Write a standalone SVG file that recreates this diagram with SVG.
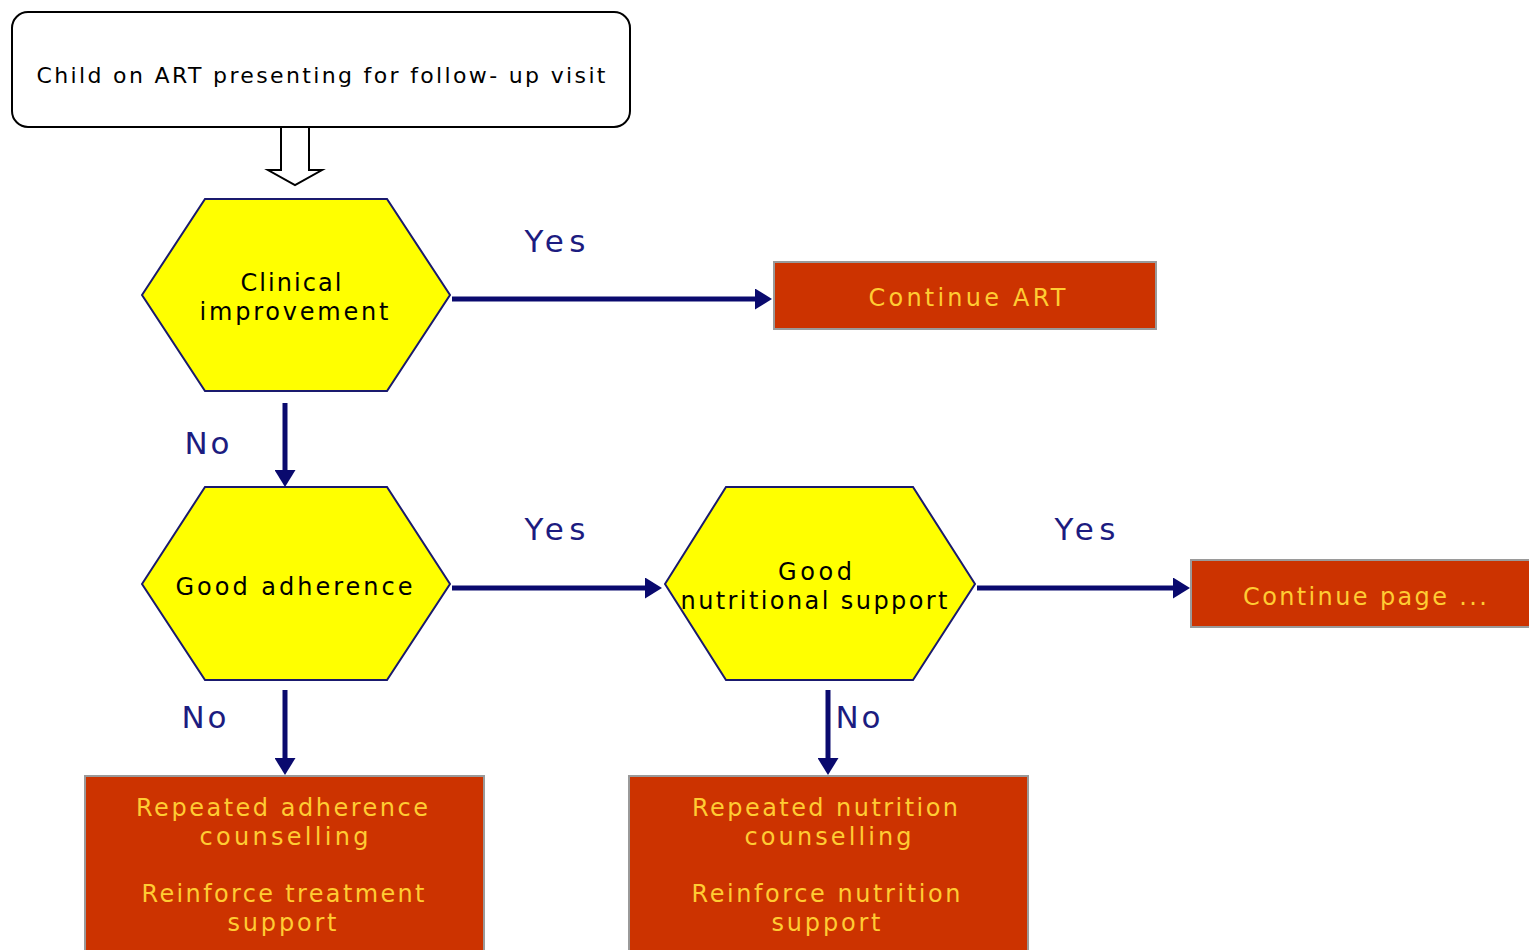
<svg xmlns="http://www.w3.org/2000/svg" width="1529" height="950" viewBox="0 0 1529 950">
<style>
.hex{fill:#FFFF00;stroke:#1a1a6e;stroke-width:2}
.box{fill:#CC3300;stroke:#9a9a9a;stroke-width:2}
.t{font-family:"DejaVu Sans","Liberation Sans",sans-serif;font-size:24px;text-anchor:middle}
.top{font-size:22px}
.dark{fill:#000}
.lt{fill:#FFCC33}
.lbl{font-family:"DejaVu Sans","Liberation Sans",sans-serif;font-size:31px;fill:#1c1c80;text-anchor:middle}
.con{stroke:#0a0a6e;stroke-width:5;fill:none}
</style>
<defs>
<marker id="ah" markerWidth="3.4" markerHeight="4.2" refX="0.4" refY="2.1" orient="auto" markerUnits="strokeWidth">
<path d="M0,0 L3.4,2.1 L0,4.2 Z" fill="#0a0a6e"/>
</marker>
</defs>
<rect width="1529" height="950" fill="#fff"/>
<g id="start">
<rect x="12" y="12" width="618" height="115" rx="16" ry="16" fill="#fff" stroke="#000" stroke-width="2"/>
<text class="t top dark" x="321" y="83" textLength="569" lengthAdjust="spacing">Child on ART presenting for follow- up visit</text>
</g>
<g id="start-arrow">
<path d="M281,128 L281,170 L268,170 L295,185 L322,170 L309,170 L309,128" fill="#fff" stroke="#000" stroke-width="2"/>
</g>
<g id="clinical">
<polygon class="hex" points="142,295 205,199 387,199 450,295 387,391 205,391"/>
<text class="t dark" x="291" y="291" textLength="101" lengthAdjust="spacing">Clinical</text>
<text class="t dark" x="294" y="320" textLength="189" lengthAdjust="spacing">improvement</text>
</g>
<g id="continue-art">
<rect class="box" x="774" y="262" width="382" height="67"/>
<text class="t lt" x="967" y="306" textLength="197" lengthAdjust="spacing">Continue ART</text>
</g>
<g id="adherence">
<polygon class="hex" points="142,584 205,487 387,487 450,584 387,680 205,680"/>
<text class="t dark" x="294" y="595" textLength="237" lengthAdjust="spacing">Good adherence</text>
</g>
<g id="nutrition">
<polygon class="hex" points="665,584 726,487 913,487 975,584 913,680 726,680"/>
<text class="t dark" x="815" y="580" textLength="74" lengthAdjust="spacing">Good</text>
<text class="t dark" x="814" y="609" textLength="267" lengthAdjust="spacing">nutritional support</text>
</g>
<g id="continue-page">
<rect class="box" x="1191" y="560" width="345" height="67"/>
<text class="t lt" x="1365" y="605" textLength="244" lengthAdjust="spacing">Continue page ...</text>
</g>
<g id="adherence-counselling">
<rect class="box" x="85" y="776" width="399" height="175"/>
<text class="t lt" x="282" y="816" textLength="292" lengthAdjust="spacing">Repeated adherence</text>
<text class="t lt" x="284" y="845" textLength="169" lengthAdjust="spacing">counselling</text>
<text class="t lt" x="283" y="902" textLength="283" lengthAdjust="spacing">Reinforce treatment</text>
<text class="t lt" x="282" y="931" textLength="109" lengthAdjust="spacing">support</text>
</g>
<g id="nutrition-counselling">
<rect class="box" x="629" y="776" width="399" height="175"/>
<text class="t lt" x="825" y="816" textLength="266" lengthAdjust="spacing">Repeated nutrition</text>
<text class="t lt" x="828" y="845" textLength="167" lengthAdjust="spacing">counselling</text>
<text class="t lt" x="826" y="902" textLength="269" lengthAdjust="spacing">Reinforce nutrition</text>
<text class="t lt" x="826" y="931" textLength="109" lengthAdjust="spacing">support</text>
</g>
<g id="connectors">
<line class="con" x1="452" y1="299" x2="757" y2="299" marker-end="url(#ah)"/>
<line class="con" x1="285" y1="403" x2="285" y2="472" marker-end="url(#ah)"/>
<line class="con" x1="452" y1="588" x2="647" y2="588" marker-end="url(#ah)"/>
<line class="con" x1="977" y1="588" x2="1175" y2="588" marker-end="url(#ah)"/>
<line class="con" x1="285" y1="690" x2="285" y2="760" marker-end="url(#ah)"/>
<line class="con" x1="828" y1="690" x2="828" y2="760" marker-end="url(#ah)"/>
<text class="lbl" x="555" y="252" textLength="61" lengthAdjust="spacing">Yes</text>
<text class="lbl" x="207" y="454" textLength="45" lengthAdjust="spacing">No</text>
<text class="lbl" x="555" y="540" textLength="61" lengthAdjust="spacing">Yes</text>
<text class="lbl" x="1085" y="540" textLength="61" lengthAdjust="spacing">Yes</text>
<text class="lbl" x="204" y="728" textLength="45" lengthAdjust="spacing">No</text>
<text class="lbl" x="858" y="728" textLength="45" lengthAdjust="spacing">No</text>
</g>
</svg>
